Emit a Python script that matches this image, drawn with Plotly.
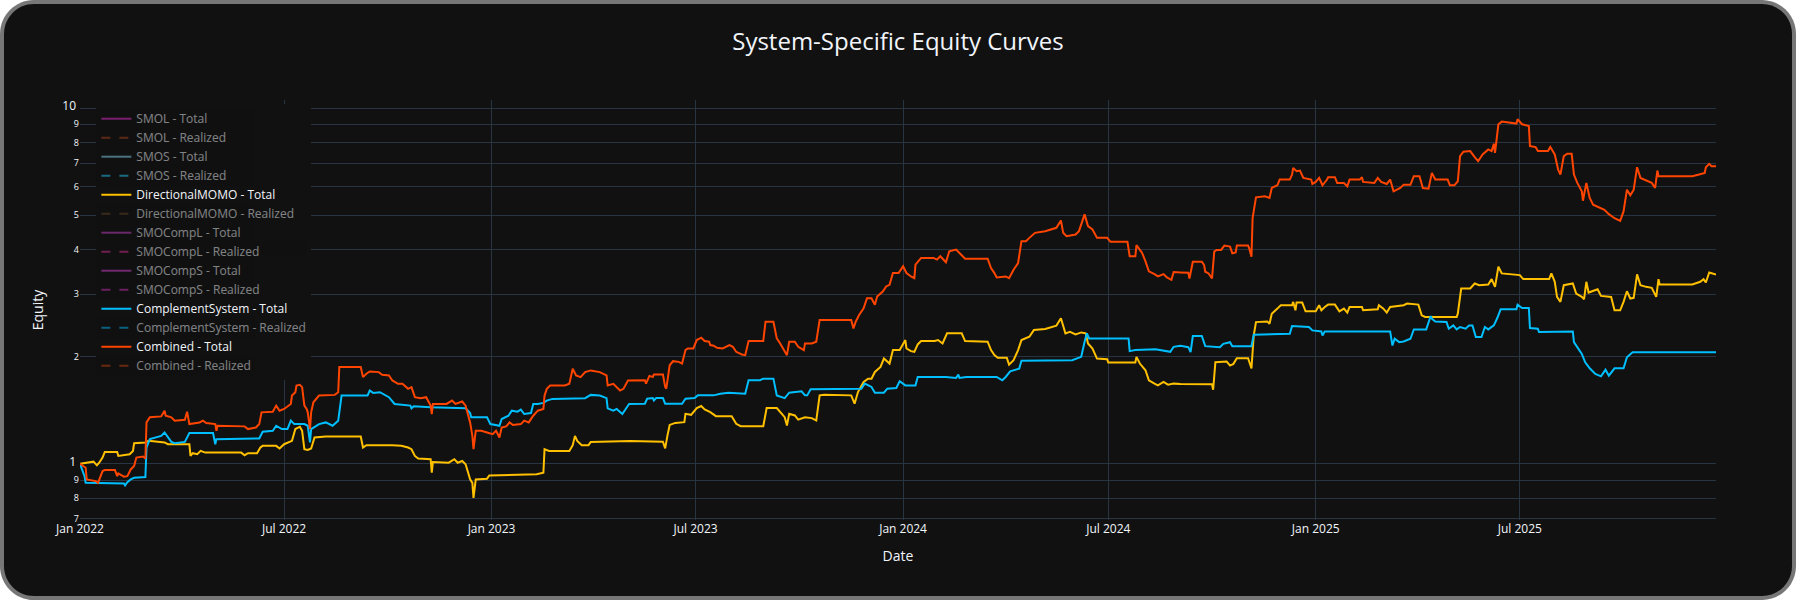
import pandas as pd
import plotly.graph_objects as go

START = "2022-01-01"

# equity curves, x as days after START
momo_day = [0, 12, 15, 17, 20, 22, 33, 34, 44, 47, 48, 58, 61, 70, 75, 78, 97, 98, 100, 104, 107, 111, 143, 146, 149,
            157, 160, 162, 174, 177, 181, 188, 191, 195, 197, 199, 202, 205, 208, 218, 249, 251, 254, 277, 285, 291,
            294, 297, 300, 311, 312, 313, 327, 332, 335, 339, 342, 346, 348, 349, 351, 361, 363, 405, 411, 412, 416,
            434, 437, 439, 441, 445, 451, 453, 488, 517, 519, 521, 523, 528, 536, 537, 542, 547, 551, 554, 559, 564,
            578, 582, 586, 606, 609, 618, 621, 625, 627, 629, 634, 637, 643, 649, 653, 656, 660, 684, 687, 690, 695,
            699, 702, 705, 710, 713, 718, 721, 727, 732, 733, 737, 740, 743, 746, 758, 761, 765, 769, 782, 785, 805,
            808, 811, 814, 822, 824, 828, 832, 835, 842, 846, 856, 861, 866, 870, 874, 878, 883, 888, 892, 894, 898,
            902, 911, 912, 936, 937, 940, 945, 948, 953, 956, 961, 965, 970, 976, 1004, 1005, 1007, 1017, 1020, 1023,
            1026, 1036, 1039, 1041, 1043, 1053, 1055, 1057, 1062, 1065, 1075, 1076, 1078, 1079, 1084, 1087, 1096,
            1099, 1101, 1104, 1107, 1113, 1117, 1121, 1124, 1126, 1137, 1138, 1151, 1152, 1156, 1159, 1162, 1174,
            1177, 1187, 1190, 1193, 1221, 1222, 1225, 1233, 1237, 1241, 1249, 1252, 1255, 1258, 1261, 1277, 1280,
            1303, 1305, 1308, 1310, 1313, 1316, 1324, 1327, 1332, 1334, 1336, 1338, 1342, 1346, 1349, 1358, 1361,
            1366, 1369, 1372, 1375, 1378, 1381, 1384, 1389, 1394, 1398, 1400, 1401, 1430, 1437, 1440, 1442, 1445,
            1451]
momo_equity = [1.00, 1.014, 0.990, 1.007, 1.041, 1.080, 1.080, 1.052, 1.064, 1.087, 1.143, 1.148, 1.160, 1.152,
               1.148, 1.135, 1.135, 1.052, 1.071, 1.064, 1.087, 1.075, 1.075, 1.057, 1.071, 1.071, 1.111, 1.123,
               1.123, 1.104, 1.135, 1.160, 1.252, 1.271, 1.238, 1.099, 1.094, 1.104, 1.186, 1.193, 1.193, 1.111,
               1.128, 1.128, 1.123, 1.111, 1.099, 1.052, 1.034, 1.030, 0.944, 1.012, 1.007, 1.030, 1.007, 1.018,
               0.997, 0.904, 0.884, 0.802, 0.904, 0.908, 0.927, 0.934, 0.944, 1.099, 1.087, 1.087, 1.128, 1.198,
               1.160, 1.128, 1.128, 1.152, 1.158, 1.154, 1.105, 1.200, 1.286, 1.303, 1.309, 1.382, 1.373, 1.434,
               1.453, 1.422, 1.397, 1.361, 1.361, 1.295, 1.275, 1.275, 1.434, 1.434, 1.397, 1.352, 1.281, 1.382,
               1.367, 1.331, 1.352, 1.344, 1.323, 1.557, 1.564, 1.557, 1.475, 1.591, 1.698, 1.735, 1.735, 1.812,
               1.872, 1.976, 1.913, 2.087, 2.087, 2.227, 2.109, 2.073, 2.064, 2.165, 2.213, 2.213, 2.227, 2.179,
               2.326, 2.326, 2.213, 2.203, 2.087, 2.020, 1.985, 1.985, 1.900, 1.955, 2.087, 2.227, 2.276, 2.376,
               2.392, 2.413, 2.445, 2.564, 2.326, 2.350, 2.310, 2.340, 2.326, 2.179, 2.109, 1.976, 1.968, 1.926,
               1.926, 1.998, 1.913, 1.832, 1.717, 1.680, 1.661, 1.698, 1.669, 1.680, 1.675, 1.672, 1.615, 1.929,
               1.938, 1.888, 1.909, 1.981, 1.981, 1.855, 2.295, 2.502, 2.513, 2.475, 2.642, 2.730, 2.790, 2.790,
               2.851, 2.700, 2.839, 2.839, 2.683, 2.683, 2.790, 2.700, 2.760, 2.802, 2.802, 2.683, 2.730, 2.660,
               2.760, 2.760, 2.700, 2.718, 2.790, 2.730, 2.660, 2.760, 2.790, 2.820, 2.802, 2.614, 2.586, 2.586,
               2.642, 3.109, 3.109, 3.212, 3.177, 3.190, 3.304, 3.143, 3.580, 3.428, 3.391, 3.304, 3.304, 3.428,
               3.247, 2.945, 2.851, 3.177, 3.212, 3.009, 2.945, 2.901, 3.247, 3.029, 3.055, 3.095, 2.964, 2.945,
               2.700, 2.700, 2.851, 3.055, 2.914, 2.927, 3.406, 3.177, 3.143, 3.123, 2.945, 3.304, 3.190, 3.190,
               3.247, 3.304, 3.233, 3.450, 3.406]

comp_day = [0, 4, 5, 39, 40, 42, 45, 48, 58, 59, 62, 67, 72, 75, 78, 81, 84, 93, 97, 118, 120, 121, 159, 162, 171,
            174, 179, 184, 187, 190, 199, 202, 204, 205, 212, 218, 224, 229, 232, 255, 257, 260, 266, 274, 279, 293,
            294, 296, 311, 342, 346, 347, 361, 364, 372, 374, 380, 383, 388, 391, 394, 400, 402, 406, 411, 414, 419,
            448, 453, 461, 467, 468, 473, 476, 481, 484, 487, 501, 503, 508, 509, 511, 517, 519, 534, 537, 545, 548,
            562, 568, 575, 590, 593, 603, 606, 615, 618, 625, 629, 640, 643, 645, 648, 693, 696, 702, 705, 713, 716,
            724, 727, 732, 741, 743, 768, 777, 779, 780, 786, 813, 818, 821, 825, 833, 835, 880, 888, 891, 893, 895,
            930, 931, 936, 954, 967, 970, 976, 983, 985, 987, 995, 998, 1011, 1014, 1020, 1022, 1039, 1041, 1073,
            1075, 1090, 1093, 1101, 1102, 1104, 1162, 1164, 1166, 1170, 1174, 1180, 1183, 1194, 1198, 1199, 1202,
            1212, 1214, 1218, 1221, 1224, 1229, 1232, 1235, 1238, 1243, 1246, 1249, 1254, 1257, 1260, 1274, 1275,
            1279, 1285, 1286, 1293, 1294, 1324, 1325, 1328, 1332, 1335, 1339, 1344, 1349, 1353, 1356, 1361, 1369,
            1372, 1377, 1451]
comp_equity = [1.00, 0.923, 0.884, 0.880, 0.869, 0.888, 0.904, 0.913, 0.918, 1.111, 1.173, 1.186, 1.198, 1.225,
               1.186, 1.152, 1.143, 1.152, 1.220, 1.220, 1.135, 1.173, 1.178, 1.230, 1.238, 1.279, 1.252, 1.252,
               1.322, 1.293, 1.293, 1.279, 1.148, 1.252, 1.293, 1.307, 1.279, 1.322, 1.555, 1.555, 1.607, 1.582,
               1.589, 1.539, 1.473, 1.457, 1.432, 1.451, 1.441, 1.432, 1.389, 1.351, 1.351, 1.293, 1.279, 1.336,
               1.365, 1.410, 1.401, 1.420, 1.380, 1.389, 1.473, 1.473, 1.483, 1.505, 1.522, 1.529, 1.562, 1.555,
               1.529, 1.432, 1.410, 1.426, 1.380, 1.426, 1.473, 1.475, 1.523, 1.530, 1.507, 1.530, 1.530, 1.475,
               1.475, 1.523, 1.530, 1.557, 1.557, 1.574, 1.584, 1.574, 1.717, 1.717, 1.735, 1.735, 1.557, 1.530,
               1.584, 1.598, 1.557, 1.557, 1.619, 1.626, 1.680, 1.644, 1.584, 1.584, 1.626, 1.633, 1.706, 1.661,
               1.661, 1.754, 1.754, 1.743, 1.781, 1.743, 1.754, 1.754, 1.717, 1.754, 1.820, 1.851, 1.947, 1.955,
               1.998, 2.203, 2.326, 2.251, 2.251, 2.073, 2.087, 2.100, 2.064, 2.132, 2.147, 2.127, 2.059, 2.285,
               2.285, 2.141, 2.127, 2.174, 2.197, 2.141, 2.141, 2.305, 2.320, 2.438, 2.423, 2.371, 2.355, 2.295,
               2.355, 2.355, 2.150, 2.246, 2.197, 2.207, 2.246, 2.386, 2.386, 2.602, 2.557, 2.513, 2.502, 2.397,
               2.449, 2.386, 2.423, 2.397, 2.449, 2.449, 2.270, 2.270, 2.423, 2.386, 2.449, 2.569, 2.718, 2.718,
               2.802, 2.742, 2.742, 2.407, 2.397, 2.346, 2.355, 2.197, 2.127, 2.037, 1.929, 1.855, 1.788, 1.761,
               1.839, 1.769, 1.855, 1.855, 1.993, 2.059, 2.059]

combined_day = [0, 5, 6, 14, 16, 17, 20, 22, 31, 33, 34, 39, 42, 45, 48, 50, 56, 58, 59, 62, 72, 75, 76, 81, 84, 93,
                95, 97, 106, 109, 112, 120, 121, 122, 146, 149, 156, 159, 161, 171, 174, 177, 181, 187, 188, 191,
                192, 195, 197, 199, 201, 202, 204, 205, 207, 212, 218, 226, 229, 230, 249, 251, 254, 257, 265, 268,
                274, 277, 282, 286, 291, 294, 297, 302, 307, 311, 312, 313, 325, 330, 333, 339, 342, 346, 348, 349,
                351, 356, 361, 366, 369, 372, 374, 378, 381, 384, 391, 394, 398, 402, 406, 411, 412, 414, 417, 430,
                434, 437, 440, 444, 448, 453, 461, 467, 468, 473, 479, 482, 486, 488, 501, 502, 505, 508, 509, 517,
                519, 520, 522, 523, 526, 531, 534, 537, 539, 544, 547, 551, 554, 558, 559, 562, 565, 570, 576, 579,
                582, 587, 590, 593, 606, 608, 615, 618, 621, 625, 627, 629, 634, 637, 642, 643, 649, 653, 656, 684,
                686, 688, 691, 695, 698, 702, 705, 707, 712, 715, 718, 721, 726, 730, 733, 737, 740, 741, 746, 757,
                760, 763, 768, 771, 777, 782, 785, 805, 808, 811, 813, 821, 824, 828, 832, 835, 839, 842, 847, 856,
                861, 866, 870, 872, 875, 883, 886, 889, 891, 894, 898, 902, 911, 914, 929, 931, 936, 937, 942, 945,
                948, 953, 956, 961, 964, 968, 970, 976, 983, 984, 987, 995, 997, 998, 1001, 1004, 1006, 1008, 1012,
                1015, 1020, 1022, 1025, 1026, 1036, 1037, 1039, 1040, 1043, 1051, 1055, 1057, 1062, 1064, 1073, 1075,
                1076, 1079, 1082, 1085, 1092, 1093, 1096, 1099, 1102, 1106, 1107, 1113, 1115, 1121, 1124, 1126, 1135,
                1137, 1138, 1148, 1151, 1154, 1159, 1162, 1165, 1171, 1174, 1180, 1183, 1188, 1191, 1196, 1199, 1202,
                1213, 1215, 1219, 1222, 1224, 1227, 1233, 1237, 1240, 1244, 1249, 1252, 1254, 1255, 1258, 1261, 1274,
                1275, 1279, 1285, 1286, 1291, 1293, 1302, 1304, 1308, 1311, 1313, 1316, 1319, 1323, 1325, 1328, 1332,
                1333, 1336, 1339, 1342, 1347, 1352, 1356, 1361, 1366, 1369, 1372, 1375, 1378, 1381, 1384, 1389, 1394,
                1397, 1399, 1400, 1430, 1436, 1441, 1442, 1445, 1447, 1451]
combined_equity = [1.00, 0.975, 0.904, 0.894, 0.884, 0.904, 0.954, 0.960, 0.960, 0.923, 0.940, 0.920, 0.923, 0.964,
                   0.986, 1.041, 1.048, 1.034, 1.307, 1.351, 1.359, 1.410, 1.365, 1.351, 1.322, 1.330, 1.401, 1.293,
                   1.307, 1.322, 1.302, 1.293, 1.238, 1.279, 1.274, 1.252, 1.265, 1.293, 1.395, 1.401, 1.457, 1.410,
                   1.426, 1.473, 1.555, 1.589, 1.660, 1.667, 1.642, 1.457, 1.426, 1.395, 1.252, 1.395, 1.489, 1.555,
                   1.555, 1.562, 1.589, 1.870, 1.870, 1.752, 1.791, 1.818, 1.810, 1.779, 1.771, 1.715, 1.678, 1.678,
                   1.624, 1.642, 1.539, 1.529, 1.539, 1.457, 1.380, 1.473, 1.473, 1.505, 1.473, 1.496, 1.457, 1.307,
                   1.198, 1.099, 1.238, 1.238, 1.225, 1.211, 1.238, 1.186, 1.265, 1.274, 1.307, 1.285, 1.293, 1.322,
                   1.307, 1.365, 1.410, 1.426, 1.555, 1.624, 1.660, 1.660, 1.678, 1.850, 1.771, 1.752, 1.810, 1.830,
                   1.810, 1.771, 1.660, 1.678, 1.607, 1.624, 1.715, 1.715, 1.717, 1.680, 1.766, 1.754, 1.781, 1.781,
                   1.644, 1.626, 1.792, 1.892, 1.943, 1.934, 1.913, 2.087, 2.109, 2.109, 2.227, 2.261, 2.213, 2.203,
                   2.156, 2.147, 2.118, 2.109, 2.156, 2.132, 2.064, 2.029, 2.020, 2.213, 2.213, 2.508, 2.508, 2.251,
                   2.179, 2.064, 2.020, 2.203, 2.203, 2.132, 2.087, 2.179, 2.179, 2.203, 2.536, 2.536, 2.402, 2.508,
                   2.620, 2.736, 2.920, 2.920, 2.797, 2.952, 3.050, 3.151, 3.185, 3.436, 3.436, 3.589, 3.436, 3.362,
                   3.325, 3.628, 3.789, 3.789, 3.748, 3.830, 3.684, 3.957, 4.000, 3.855, 3.772, 3.772, 3.550, 3.436,
                   3.340, 3.362, 3.325, 3.512, 3.667, 4.223, 4.223, 4.315, 4.458, 4.507, 4.556, 4.606, 4.831, 4.458,
                   4.362, 4.410, 4.507, 4.810, 5.023, 4.656, 4.556, 4.315, 4.315, 4.205, 4.205, 3.830, 3.830, 4.115,
                   3.914, 3.707, 3.474, 3.414, 3.362, 3.414, 3.340, 3.289, 3.458, 3.450, 3.443, 3.318, 3.698, 3.698,
                   3.619, 3.465, 3.428, 3.318, 3.948, 3.990, 3.990, 4.104, 4.078, 3.904, 3.929, 4.104, 4.104, 4.034,
                   3.820, 4.901, 5.609, 5.646, 5.585, 5.960, 6.065, 6.293, 6.293, 6.500, 6.788, 6.643, 6.672, 6.361,
                   6.293, 6.117, 6.198, 6.361, 6.065, 6.293, 6.389, 6.389, 6.158, 6.158, 6.025, 6.293, 6.293, 6.389,
                   6.198, 6.158, 6.361, 6.198, 6.117, 6.293, 5.832, 5.960, 6.090, 6.090, 6.431, 6.431, 5.960, 5.934,
                   6.571, 6.293, 6.293, 6.065, 6.065, 6.225, 7.322, 7.534, 7.566, 7.274, 7.087, 7.403, 7.648, 7.566,
                   7.935, 7.483, 9.000, 9.157, 9.040, 9.297, 9.000, 8.903, 7.816, 7.765, 7.566, 7.566, 7.765, 7.403,
                   6.714, 6.500, 7.322, 7.435, 7.435, 6.500, 6.158, 5.832, 5.489, 6.158, 5.585, 5.348, 5.256, 5.176,
                   5.032, 4.901, 4.817, 5.120, 5.895, 5.683, 5.895, 6.818, 6.361, 6.251, 6.158, 5.960, 6.672, 6.431,
                   6.431, 6.500, 6.571, 6.818, 6.966, 6.863, 6.863]

# the hidden (legend-only) series: only their common starting point is known
start_day = [0]
start_equity = [1.0]

systems = ["SMOL", "SMOS", "DirectionalMOMO", "SMOCompL", "SMOCompS", "ComplementSystem", "Combined"]
shown = {"DirectionalMOMO": (momo_day, momo_equity),
         "ComplementSystem": (comp_day, comp_equity),
         "Combined": (combined_day, combined_equity)}

total_colors = {"SMOL": "#E32FCF", "SMOS": "#83D6F2", "DirectionalMOMO": "#FFC000", "SMOCompL": "#C343C3",
                "SMOCompS": "#CF43CF", "ComplementSystem": "#00BFFF", "Combined": "#FF4500"}
realized_colors = {"SMOL": "#A7431F", "SMOS": "#23C3EF", "DirectionalMOMO": "#634323", "SMOCompL": "#CF2F8F",
                   "SMOCompS": "#C32FAF", "ComplementSystem": "#03AFEF", "Combined": "#C3430F"}

W, H = 1796, 600
MARGIN = dict(l=80, r=80, t=100, b=80)


def to_paper(px, py):
    # pixel position on the page -> paper coords of the plot area
    pw = W - MARGIN["l"] - MARGIN["r"]
    ph = H - MARGIN["t"] - MARGIN["b"]
    return (px - MARGIN["l"]) / pw, (H - MARGIN["b"] - py) / ph


def rounded_path(x0, y0, x1, y1, r):
    c = 0.5523 * r
    seq = [("M", [(x0 + r, y0)]),
           ("L", [(x1 - r, y0)]),
           ("C", [(x1 - r + c, y0), (x1, y0 + r - c), (x1, y0 + r)]),
           ("L", [(x1, y1 - r)]),
           ("C", [(x1, y1 - r + c), (x1 - r + c, y1), (x1 - r, y1)]),
           ("L", [(x0 + r, y1)]),
           ("C", [(x0 + r - c, y1), (x0, y1 - r + c), (x0, y1 - r)]),
           ("L", [(x0, y0 + r)]),
           ("C", [(x0, y0 + r - c), (x0 + r - c, y0), (x0 + r, y0)])]
    out = ""
    for cmd, pts in seq:
        out += cmd + " ".join("%.5f,%.5f" % to_paper(*p) for p in pts) + " "
    return out + "Z"


start = pd.Timestamp(START)


def to_dates(days):
    return start + pd.to_timedelta(days, unit="D")


fig = go.Figure()

for name in systems:
    if name in shown:
        days, eq = shown[name]
        fig.add_trace(go.Scatter(x=to_dates(days), y=eq, mode="lines", name=f"{name} - Total",
                                 line=dict(color=total_colors[name], width=2)))
    else:
        fig.add_trace(go.Scatter(x=to_dates(start_day), y=start_equity, mode="lines", name=f"{name} - Total",
                                 visible="legendonly", line=dict(color=total_colors[name], width=2)))
    fig.add_trace(go.Scatter(x=to_dates(start_day), y=start_equity, mode="lines", name=f"{name} - Realized",
                             visible="legendonly",
                             line=dict(color=realized_colors[name], width=2, dash="dash")))

# rounded frame round the whole chart
fig.add_shape(type="path", xref="paper", yref="paper", layer="below",
              path=rounded_path(0, 0, W, H, 34), fillcolor="#777777", line=dict(width=0))
fig.add_shape(type="path", xref="paper", yref="paper", layer="below",
              path=rounded_path(4, 4, W - 4, H - 4, 30), fillcolor="#111111", line=dict(width=0))

fig.update_layout(
    template="plotly_dark",
    width=W, height=H,
    margin=MARGIN,
    paper_bgcolor="white",
    plot_bgcolor="#111111",
    title=dict(text="System-Specific Equity Curves", x=0.5, font=dict(size=24)),
    xaxis=dict(title="Date"),
    yaxis=dict(title="Equity", type="log", range=[-0.158, 1.0225]),
    legend=dict(x=0.01, y=0.99, xanchor="left", yanchor="top", bgcolor="#111111", font=dict(size=12)),
    showlegend=True,
)

# page body margin would push the chart off the window edge
fig.write_html("out.html", config={"displayModeBar": False},
               post_script="document.body.style.margin='0';")
